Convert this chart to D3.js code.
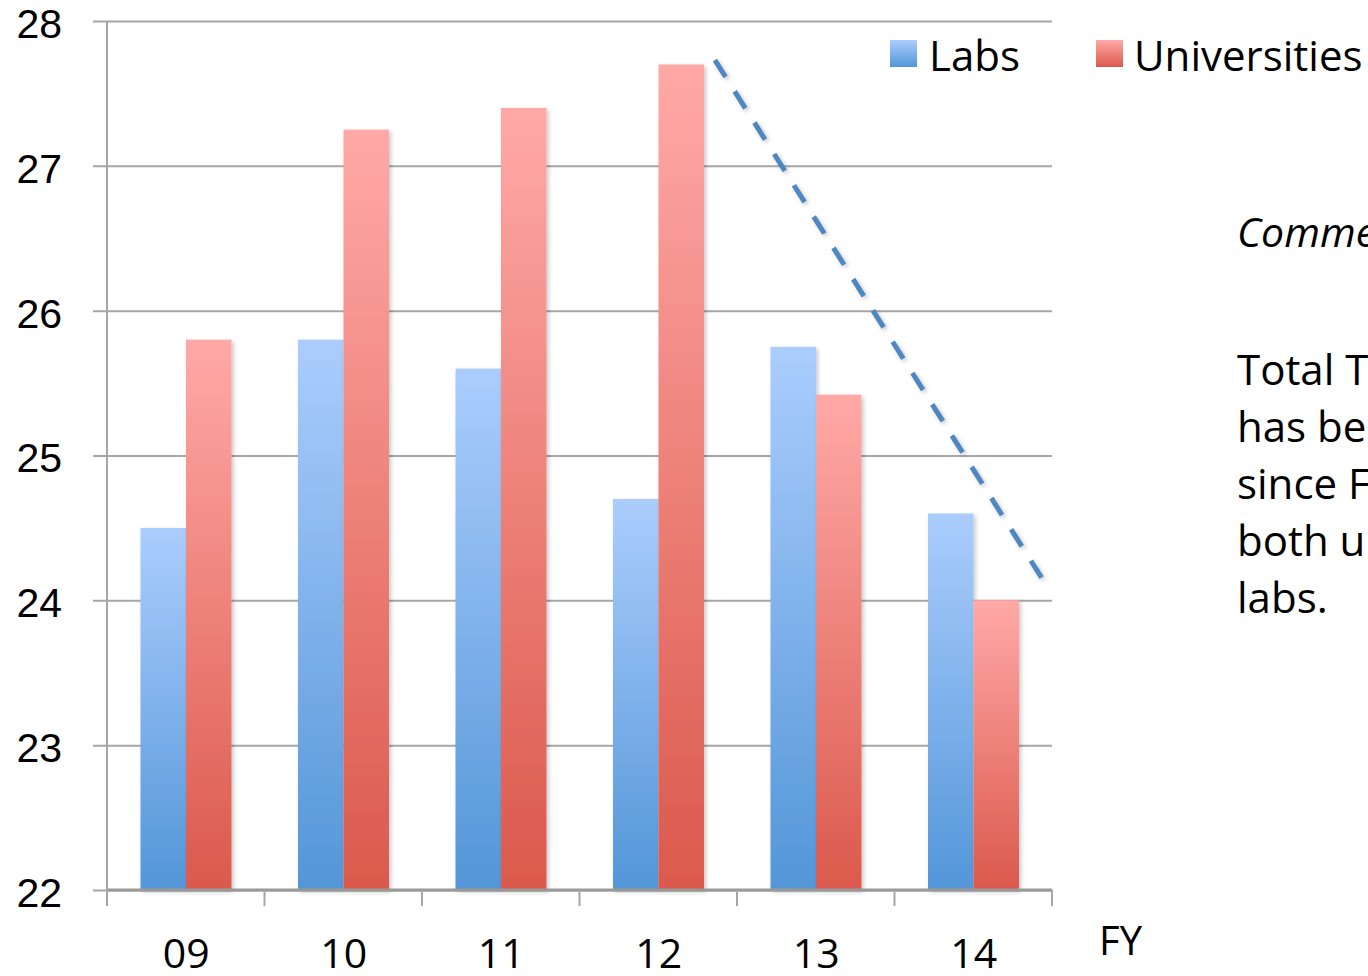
<!DOCTYPE html>
<html>
<head>
<meta charset="utf-8">
<script src="https://cdn.jsdelivr.net/npm/d3@7"></script>
<style>
  html, body { margin: 0; padding: 0; background: #fff; overflow: hidden; }
  svg { display: block; font-family: "Open Sans", Lato, sans-serif; }
</style>
</head>
<body>
<svg id="chart" width="1368" height="976"></svg>
<script>
// Fiscal years and values for the two series
const years = ["09", "10", "11", "12", "13", "14"];
const labs = [24.5, 25.8, 25.6, 24.7, 25.75, 24.6];
const universities = [25.8, 27.25, 27.4, 27.7, 25.42, 24.0];
const seriesNames = ["Labs", "Universities"];
const yTicks = [22, 23, 24, 25, 26, 27, 28];
// Downward trend line endpoints (year, position within the year band, value)
const trendPoints = [
  { fy: "12", frac: 0.86, v: 27.73 },
  { fy: "14", frac: 0.955, v: 24.12 }
];
const commentTitle = "Comments";
const commentLines = ["Total Travel funding", "has been reduced", "since FY12 for", "both universities and", "labs."];

const svg = d3.select("#chart");
const plotLeft = 107, plotRight = 1052, plotTop = 21, plotBottom = 890;

const x0 = d3.scaleBand().domain(years).range([plotLeft, plotRight]).paddingInner(0).paddingOuter(0);
const x1 = d3.scaleBand().domain(seriesNames).range([33.5, 124.5]).padding(0);
const y = d3.scaleLinear().domain([22, 28]).range([plotBottom, plotTop]);

const defs = svg.append("defs");
const grads = [
  { id: "gLabs", top: "#abcdfd", bot: "#5396d8" },
  { id: "gUni", top: "#ffa9a7", bot: "#db594c" }
];
grads.forEach(g => {
  const lg = defs.append("linearGradient").attr("id", g.id)
    .attr("x1", 0).attr("y1", 0).attr("x2", 0).attr("y2", 1);
  lg.append("stop").attr("offset", "0%").attr("stop-color", g.top);
  lg.append("stop").attr("offset", "100%").attr("stop-color", g.bot);
});
const sh = defs.append("filter").attr("id", "shadow")
  .attr("x", "-20%").attr("y", "-5%").attr("width", "140%").attr("height", "110%");
sh.append("feDropShadow").attr("dx", 2).attr("dy", 2).attr("stdDeviation", 2)
  .attr("flood-color", "#000").attr("flood-opacity", 0.22);

// Horizontal gridlines with left ticks
const yAxis = d3.axisLeft(y).tickValues(yTicks).tickSize(-(plotRight - plotLeft)).tickPadding(30)
  .tickFormat(d3.format("d"));
const gy = svg.append("g").attr("transform", `translate(${plotLeft},0)`).call(yAxis);
gy.select(".domain").remove();
gy.selectAll(".tick line").attr("stroke", "#a6a6a6").attr("stroke-width", 2)
  .attr("x1", -14);
gy.selectAll(".tick text").attr("font-size", 41).attr("fill", "#000")
  .attr("x", -45).attr("text-anchor", "end").attr("dy", "0.4em");

// Vertical axis line
svg.append("line").attr("x1", plotLeft).attr("x2", plotLeft).attr("y1", plotTop).attr("y2", plotBottom)
  .attr("stroke", "#a6a6a6").attr("stroke-width", 2);

// Bars
const grp = svg.append("g");
years.forEach((fy, i) => {
  const vals = [labs[i], universities[i]];
  vals.forEach((v, j) => {
    grp.append("rect")
      .attr("x", x0(fy) + x1(seriesNames[j]))
      .attr("y", y(v))
      .attr("width", x1.bandwidth())
      .attr("height", y(22) - y(v))
      .attr("fill", j === 0 ? "url(#gLabs)" : "url(#gUni)")
      .attr("filter", "url(#shadow)");
  });
});

// Bottom axis with ticks at band boundaries
const boundaries = years.map(d => x0(d)).concat([plotRight]);
svg.append("line").attr("x1", plotLeft).attr("x2", plotRight).attr("y1", plotBottom).attr("y2", plotBottom)
  .attr("stroke", "#999").attr("stroke-width", 3);
svg.selectAll(".xtick").data(boundaries).enter().append("line")
  .attr("x1", d => d).attr("x2", d => d).attr("y1", plotBottom).attr("y2", plotBottom + 16)
  .attr("stroke", "#a6a6a6").attr("stroke-width", 2);
svg.selectAll(".xlab").data(years).enter().append("text")
  .attr("x", d => x0(d) + x0.bandwidth() / 2 + 0.5)
  .attr("y", 968).attr("text-anchor", "middle").attr("font-size", 41).attr("fill", "#000")
  .text(d => d);
svg.append("text").attr("x", 1099).attr("y", 955).attr("font-size", 40).attr("fill", "#000").text("FY");

// Trend line
const line = d3.line().x(d => x0(d.fy) + d.frac * x0.bandwidth()).y(d => y(d.v));
svg.append("path").datum(trendPoints).attr("d", line)
  .attr("stroke", "#4f87c3").attr("stroke-width", 5).attr("fill", "none")
  .attr("stroke-dasharray", "20,17").attr("filter", "url(#shadow)");

// Legend
const legend = [
  { name: "Labs", fill: "url(#gLabs)", x: 890, tx: 929 },
  { name: "Universities", fill: "url(#gUni)", x: 1096, tx: 1134 }
];
legend.forEach(l => {
  svg.append("rect").attr("x", l.x).attr("y", 40).attr("width", 27).attr("height", 27).attr("fill", l.fill);
  svg.append("text").attr("x", l.tx).attr("y", 71).attr("font-size", 42).attr("fill", "#000").text(l.name);
});

// Comment text
svg.append("text").attr("x", 1237).attr("y", 247).attr("font-size", 41).attr("font-style", "italic")
  .attr("fill", "#000").text(commentTitle);
commentLines.forEach((t, i) => {
  svg.append("text").attr("x", 1237).attr("y", 385 + i * 57).attr("font-size", 42)
    .attr("fill", "#000").text(t);
});
</script>
</body>
</html>
